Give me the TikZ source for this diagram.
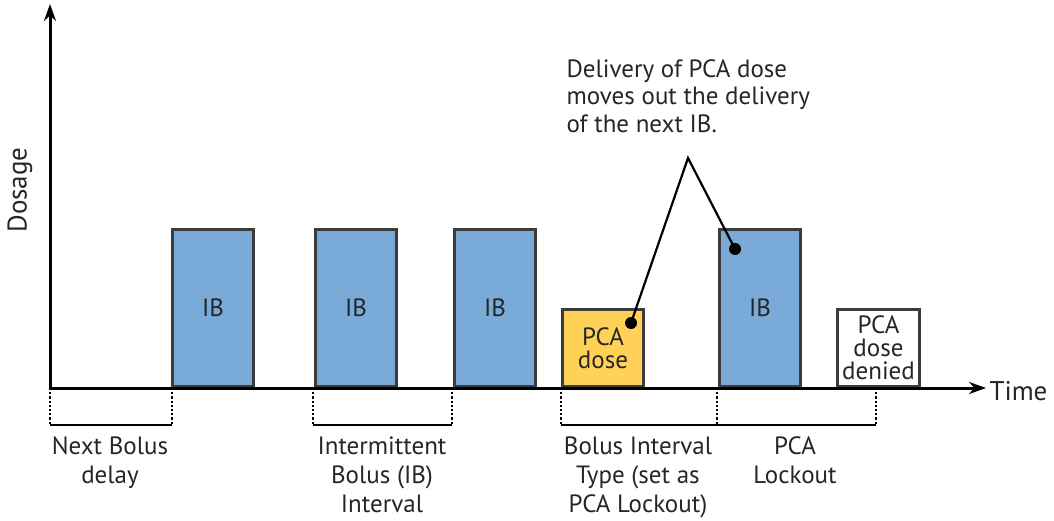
\documentclass[tikz,border=0pt]{standalone}
\usepackage{fontspec}
\setmainfont{PT Sans}
\usetikzlibrary{arrows.meta}

\definecolor{ibblue}{HTML}{7AAAD8}
\definecolor{pcayellow}{HTML}{FFD257}
\definecolor{edgegray}{HTML}{3C3C3C}

\tikzset{
  bar/.style={draw=edgegray, line width=3, anchor=south west, inner sep=0,
    minimum width=81, align=center, text=black!85,
    font=\fontsize{25}{23}\selectfont},
  tallbar/.style={bar, fill=ibblue, minimum height=157},
  lowbar/.style={bar, minimum height=77},
  tick/.style={line width=2.2, dotted},
  span/.style={line width=2.2},
  lbl/.style={align=center, anchor=north, text=black!85,
    font=\fontsize{25}{29}\selectfont}
}

\begin{document}
\begin{tikzpicture}[x=1pt,y=-1pt]
  \useasboundingbox (0,0) rectangle (1054,521);
  % axes
  \coordinate (o) at (50,388);
  \coordinate (ytop) at (50,4);
  \coordinate (xend) at (986,388);
  \draw[line width=3, -{Stealth[length=17,width=12]}] (o) -- (ytop);
  \node[rotate=90, font=\fontsize{27}{27}\selectfont, text=black!85] (dosage) at (20,190) {Dosage};

  % bars
  \node[tallbar] (ib1) at (171,388) {IB};
  \node[tallbar] (ib2) at (314,388) {IB};
  \node[tallbar] (ib3) at (453,388) {IB};
  \node[lowbar, fill=pcayellow] (pca) at (561,388) {PCA\\dose};
  \node[tallbar] (ib4) at (718,388) {IB};
  \node[lowbar, fill=white, minimum width=82] (denied) at (836,388) {PCA\\dose\\denied};

  \draw[line width=3, -{Stealth[length=17,width=12]}] (o) -- (xend);
  \node[anchor=west, font=\fontsize{27}{27}\selectfont, text=black!85] (time) at (986,391) {Time};

  % interval brackets
  \foreach \x/\n in {50/a,172/b,313/c,452/d,561/e,717/f,876/g}{
    \coordinate (t\n) at (\x,388);
    \coordinate (s\n) at (\x,425);
    \draw[tick] (t\n) -- (s\n);
  }
  \draw[span] (sa) -- (sb);
  \draw[span] (sc) -- (sd);
  \draw[span] (se) -- (sg);

  % interval labels
  \node[lbl] (delay) at (110,433) {Next Bolus\\delay};
  \node[lbl] (ibint) at (382,433) {Intermittent\\Bolus (IB)\\Interval};
  \node[lbl] (bitype) at (638,433) {Bolus Interval\\Type (set as\\PCA Lockout)};
  \node[lbl] (lockout) at (795,433) {PCA\\Lockout};

  % callout
  \node[align=left, anchor=north west, text=black!85,
    font=\fontsize{25}{27.5}\selectfont] (note) at (563,56)
    {Delivery of PCA dose\\moves out the delivery\\of the next IB.};
  \coordinate (apex) at (688,158);
  \coordinate (pcadot) at (631,323);
  \coordinate (ibdot) at (735,249);
  \draw[line width=2.2] (pcadot) -- (apex) -- (ibdot);
  \fill (pcadot) circle (6);
  \fill (ibdot) circle (6);
\end{tikzpicture}
\end{document}
